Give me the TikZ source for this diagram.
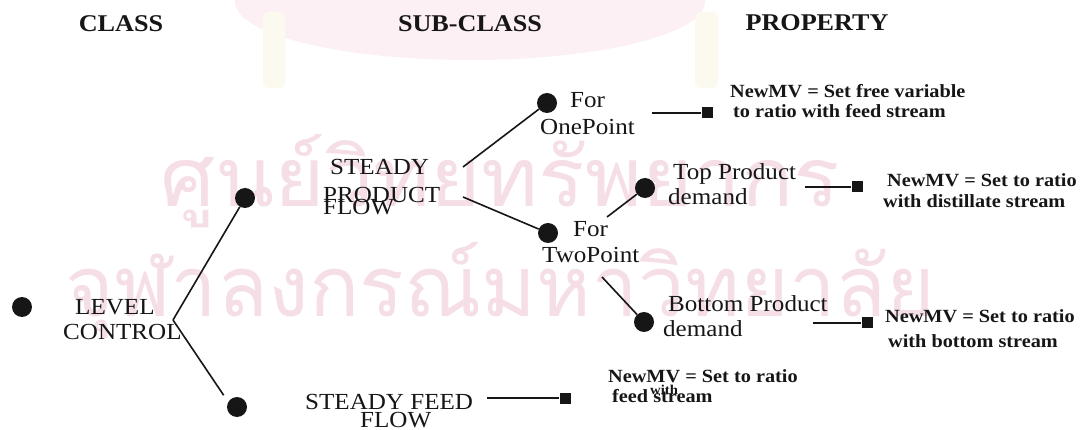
\documentclass[tikz,border=0pt]{standalone}
\usepackage{fontspec}
\setmainfont[FakeStretch=1.09]{Liberation Serif}
\newfontfamily\thaifont[Script=Thai]{Loma}
\definecolor{wmpink}{RGB}{246,222,231}
\definecolor{logopink}{RGB}{252,240,244}
\definecolor{tassel}{RGB}{252,249,238}
\definecolor{ink}{RGB}{22,22,22}
\tikzset{
  dot/.style={circle, fill=ink, inner sep=0pt, minimum size=20pt},
  sq/.style={rectangle, fill=ink, inner sep=0pt, minimum size=11pt},
  lbl/.style={anchor=base west, inner sep=0pt, text=ink, font=\fontsize{23}{27}\selectfont},
  hdr/.style={anchor=base, inner sep=0pt, text=ink, font=\bfseries\fontsize{24}{28}\selectfont},
  mv/.style={anchor=base west, inner sep=0pt, text=ink, font=\bfseries\fontsize{18.6}{22}\selectfont},
  mvsmall/.style={mv, font=\bfseries\fontsize{13.5}{16}\selectfont},
  link/.style={draw=ink, line width=1.6pt},
  wm/.style={anchor=base west, inner sep=0pt, text=wmpink}
}
\begin{document}
\begin{tikzpicture}[x=1pt, y=-1pt]
\useasboundingbox (0,0) rectangle (1087,430);
\fill[white] (0,0) rectangle (1087,430);

% faint seal and institutional lettering in the background
\fill[logopink] (470,2) ellipse [x radius=235, y radius=58];
\fill[tassel, rounded corners=6pt] (263,12) rectangle (285,88);
\fill[tassel, rounded corners=6pt] (695,12) rectangle (718,88);
\node[wm] (wm1) at (160,207) {\resizebox{680pt}{72pt}{\thaifont ศูนย์วิทยทรัพยากร}};
\node[wm] (wm2) at (65,317) {\resizebox{870pt}{74pt}{\thaifont จุฬาลงกรณ์มหาวิทยาลัย}};

% column headings
\node[hdr] (hclass) at (121,32) {CLASS};
\node[hdr] (hsub) at (470,32) {SUB-CLASS};
\node[hdr] (hprop) at (817,31) {PROPERTY};

% class
\node[dot] (d0) at (22,307) {};
\node[lbl] (lev1) at (75,315) {LEVEL};
\node[lbl] (lev2) at (63,340) {CONTROL};
\coordinate (fork) at (173,320);

% sub-classes
\node[dot] (dspf) at (245,198) {};
\node[dot] (dsf) at (237,407) {};
\node[lbl] (spf1) at (330,175) {STEADY};
\node[lbl] (spf2) at (323,203) {PRODUCT};
\node[lbl] (spf3) at (323,215) {FLOW};
\node[lbl] (sf1) at (305,409) {STEADY FEED};
\node[lbl] (sf2) at (360,427) {FLOW};

\draw[link] (fork) -- (dspf);
\draw[link, shorten >=8pt] (fork) -- (dsf.150);

% steady product flow branches
\coordinate (spfa) at (463,167);
\coordinate (spfb) at (463,197);
\node[dot] (d1p) at (547,103) {};
\node[dot] (d2p) at (548,233) {};
\draw[link] (spfa) -- (d1p);
\draw[link] (spfb) -- (d2p);
\node[lbl] (one1) at (570,108) {For};
\node[lbl] (one2) at (540,135) {OnePoint};
\node[lbl] (two1) at (573,237) {For};
\node[lbl] (two2) at (542,263) {TwoPoint};

\coordinate (twoa) at (607,217);
\coordinate (twob) at (602,277);
\node[dot] (dtop) at (645,188) {};
\node[dot] (dbot) at (644,322) {};
\draw[link] (twoa) -- (dtop);
\draw[link] (twob) -- (dbot);
\node[lbl] (top1) at (673,180) {Top Product};
\node[lbl] (top2) at (668,205) {demand};
\node[lbl] (bot1) at (668,312) {Bottom Product};
\node[lbl] (bot2) at (663,337) {demand};

% properties
\node[sq] (s1) at (707,113) {};
\node[sq] (s2) at (857,187) {};
\node[sq] (s3) at (867,323) {};
\node[sq] (s4) at (565,398) {};
\coordinate (l1) at (652,113);
\coordinate (l2) at (805,187);
\coordinate (l3) at (813,323);
\coordinate (l4) at (487,398);
\draw[link] (l1) -- (s1);
\draw[link] (l2) -- (s2);
\draw[link] (l3) -- (s3);
\draw[link] (l4) -- (s4);

\node[mv] (p1a) at (730,98) {NewMV = Set free variable};
\node[mv] (p1b) at (733,118) {to ratio with feed stream};
\node[mv] (p2a) at (887,187) {NewMV = Set to ratio};
\node[mv] (p2b) at (883,208) {with distillate stream};
\node[mv] (p3a) at (885,323) {NewMV = Set to ratio};
\node[mv] (p3b) at (888,347) {with bottom stream};
\node[mv] (p4a) at (608,382) {NewMV = Set to ratio};
\node[mv] (p4c) at (612,402) {feed stream};
\node[mvsmall] (p4b) at (650,394) {with};
\end{tikzpicture}
\end{document}
